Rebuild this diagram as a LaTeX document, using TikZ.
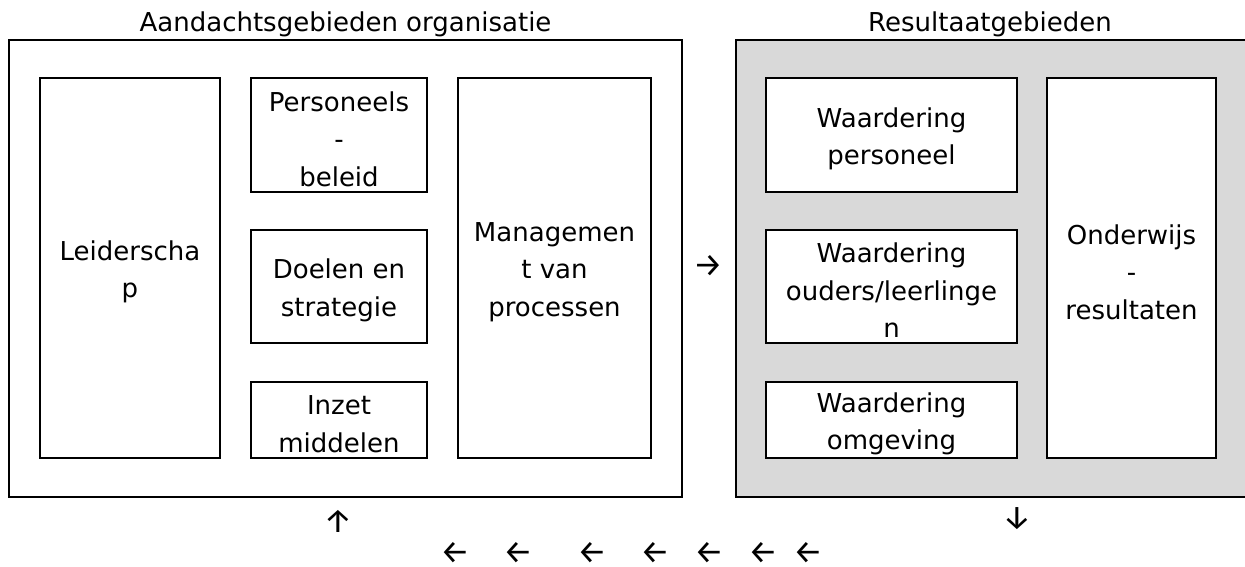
\documentclass[tikz,border=0pt]{standalone}
\usepackage{fontspec}
\setmainfont{DejaVu Sans}
\newfontfamily\arrowfont{Fira Sans}
\definecolor{panelgray}{HTML}{D9D9D9}
\begin{document}
\begin{tikzpicture}[x=1pt,y=-1pt,
  txt/.style={font=\fontsize{26}{37.5}\selectfont, align=center, inner sep=0pt},
  box/.style={draw=black, line width=2.8pt, fill=white, inner sep=0pt},
  lbl/.style={txt, yshift=-4pt},
  outer/.style={draw=black, line width=2.8pt, inner sep=0pt},
  glyph/.style={font=\arrowfont\fontsize{33}{36}\selectfont, inner sep=0pt}]
\useasboundingbox (0,0) rectangle (1245,567);
% outer panels
\node[outer, fill=white, minimum width=673pt, minimum height=457pt] (left) at (345.5,268.5) {};
\node[outer, fill=panelgray, minimum width=511pt, minimum height=457pt] (right) at (991.5,268.5) {};
% titles
\node[txt] (ltitle) at (345.5,24) {Aandachtsgebieden organisatie};
\node[txt] (rtitle) at (990,24) {Resultaatgebieden};
% left boxes
\node[box, minimum width=180pt, minimum height=380pt] (lead) at (130,268) {};
\node[lbl] (leadt) at (lead) {Leiderscha\\p};
\node[box, minimum width=176pt, minimum height=114pt] (pers) at (339,135) {};
\node[lbl] (perst) at (pers) {Personeels\\-\\beleid};
\node[box, minimum width=176pt, minimum height=113pt] (doel) at (339,286.5) {};
\node[lbl] (doelt) at (doel) {Doelen en\\strategie};
\node[box, minimum width=176pt, minimum height=76pt] (inzet) at (339,420) {};
\node[lbl] (inzett) at (inzet) {Inzet\\middelen};
\node[box, minimum width=193pt, minimum height=380pt] (mgmt) at (554.5,268) {};
\node[lbl] (mgmtt) at (mgmt) {Managemen\\t van\\processen};
% right boxes
\node[box, minimum width=251pt, minimum height=114pt] (wpers) at (891.5,135) {};
\node[lbl] (wperst) at (wpers) {Waardering\\personeel};
\node[box, minimum width=251pt, minimum height=113pt] (wouders) at (891.5,286.5) {};
\node[lbl] (woudierst) at (wouders) {Waardering\\ouders/leerlinge\\n};
\node[box, minimum width=251pt, minimum height=76pt] (womg) at (891.5,420) {};
\node[lbl] (womgt) at (womg) {Waardering\\omgeving};
\node[box, minimum width=169pt, minimum height=380pt] (onder) at (1131.5,268) {};
\node[lbl] (ondert) at (onder) {Onderwijs\\-\\resultaten};
% arrow glyphs
\node[glyph] (ar) at (708,266) {→};
\node[glyph] (au) at (338,521) {↑};
\node[glyph] (ad) at (1017,519) {↓};
\node[glyph] (b1) at (455,553) {←};
\node[glyph] (b2) at (518,553) {←};
\node[glyph] (b3) at (592,553) {←};
\node[glyph] (b4) at (655,553) {←};
\node[glyph] (b5) at (709,553) {←};
\node[glyph] (b6) at (763,553) {←};
\node[glyph] (b7) at (808,553) {←};
\end{tikzpicture}
\end{document}
